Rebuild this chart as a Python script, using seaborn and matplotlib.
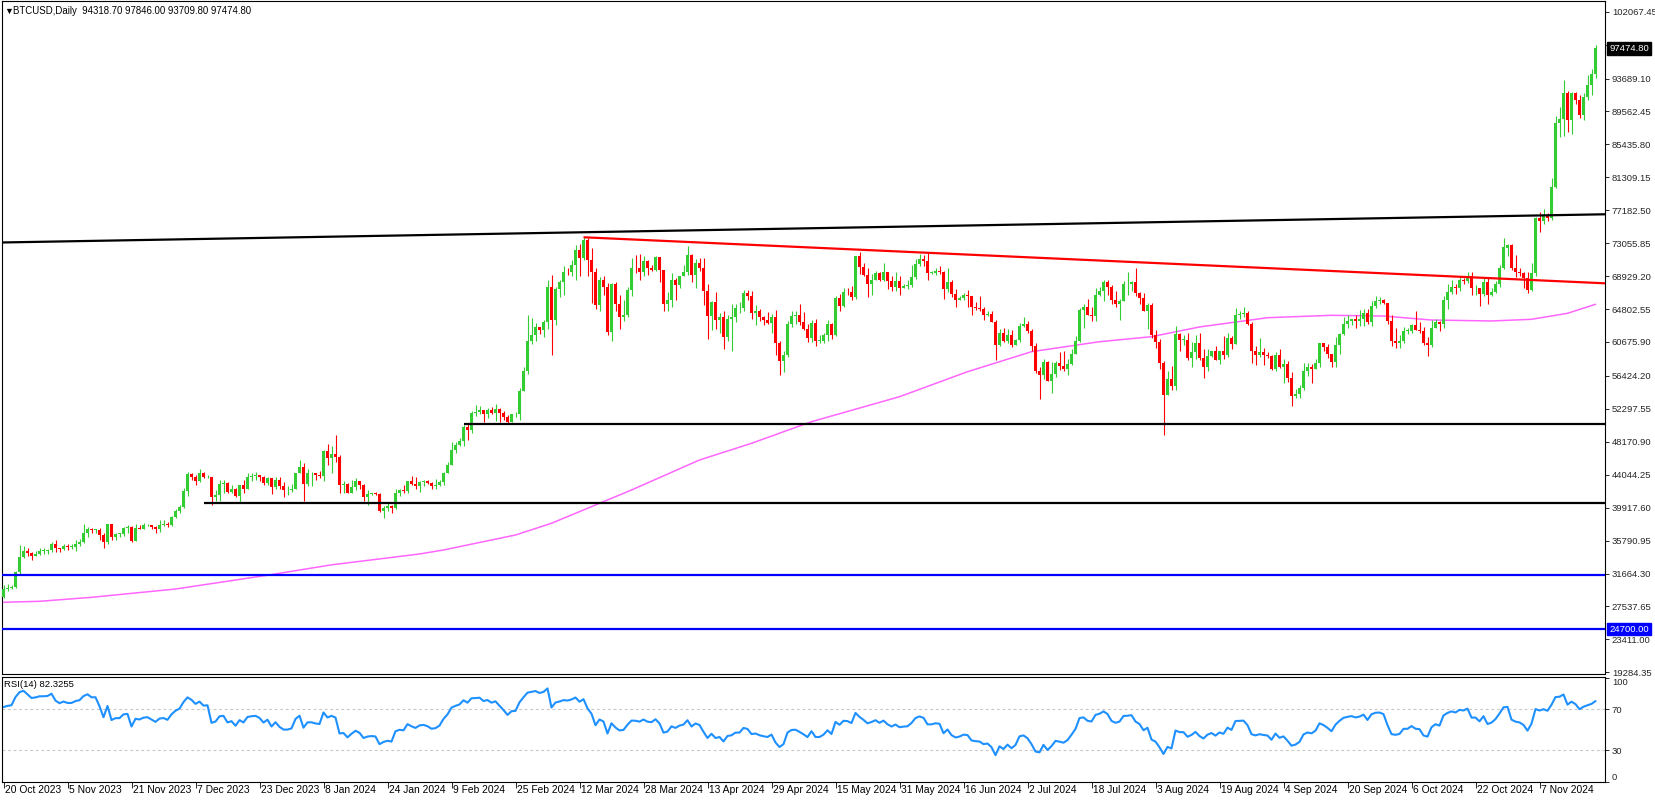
import numpy as np
import pandas as pd
import matplotlib
matplotlib.use("Agg")
import matplotlib.pyplot as plt
import seaborn as sns

sns.set_style("white")
plt.rcParams['font.family'] = ['Liberation Sans', 'DejaVu Sans']

# ---------------- data (prices in thousands of USD) ----------------
# daily bars from 20 Oct 2023 to 21 Nov 2024
opens_k = [
    # Oct 2023 (20-31)
    28.7, 29.7, 29.9, 30.0, 31.8, 33.7, 34.5, 34.2, 33.9, 34.1, 34.5, 34.5,
    # Nov 2023
    34.6, 35.4, 34.9, 34.7, 35.1, 35.0, 35.0, 35.4, 35.6, 36.7, 37.3, 37.1, 37.1, 36.5, 35.6,
    37.9, 36.2, 36.6, 36.6, 37.4, 37.5, 35.8, 37.4, 37.3, 37.7, 37.8, 37.5, 37.2, 37.8, 37.9,
    # Dec 2023
    37.7, 38.7, 39.5, 40.0, 42.0, 44.1, 43.8, 43.3, 44.2, 43.7, 43.8, 41.2, 41.5, 42.9, 43.0, 41.9,
    42.2, 41.4, 42.7, 42.3, 43.7, 43.9, 44.0, 43.7, 43.0, 43.6, 42.5, 43.4, 42.6, 42.1, 42.1,
    # Jan 2024
    42.3, 44.2, 45.0, 42.9, 44.2, 44.2, 44.0, 43.9, 47.0, 46.1, 46.6, 46.3, 42.8, 42.9, 41.7, 42.5,
    43.2, 42.7, 41.3, 41.6, 41.7, 41.6, 39.5, 39.9, 40.1, 39.9, 41.8, 42.1, 42.0, 43.3, 42.9,
    # Feb 2024
    42.6, 43.1, 43.2, 43.0, 42.6, 42.7, 43.1, 44.3, 45.3, 47.2, 47.8, 48.3, 50.0, 49.7, 51.8,
    51.9, 52.1, 51.7, 52.1, 51.8, 52.3, 51.8, 51.3, 50.7, 51.6, 51.7, 54.5, 57.1, 60.8,
    # Mar 2024
    61.6, 62.5, 62.2, 63.2, 67.6, 63.4, 67.3, 68.2, 69.5, 69.4, 70.3, 72.2, 71.2, 73.4, 71.0, 69.4,
    65.3, 68.4, 67.6, 61.9, 67.9, 65.5, 63.8, 64.1, 67.2, 70.0, 69.9, 69.5, 70.8, 69.9, 69.7,
    # Apr 2024
    71.3, 69.7, 65.5, 66.0, 68.5, 67.8, 68.9, 69.4, 71.6, 69.1, 70.6, 70.0, 67.1, 63.9, 65.7,
    63.4, 63.8, 61.3, 63.5, 63.8, 64.9, 64.9, 66.8, 66.4, 64.3, 64.5, 63.8, 63.4, 63.1, 63.8,
    # May 2024
    60.6, 58.3, 59.1, 62.9, 63.9, 64.0, 63.2, 62.3, 61.2, 63.1, 60.8, 60.8, 61.5, 62.9, 61.6, 66.2,
    65.2, 67.0, 66.9, 66.3, 71.4, 70.1, 69.1, 67.9, 68.5, 69.3, 68.5, 69.4, 68.3, 67.6, 68.3,
    # Jun 2024
    67.5, 67.7, 67.8, 68.8, 70.5, 71.1, 70.8, 69.3, 69.3, 69.6, 69.5, 67.3, 68.2, 66.7, 66.0,
    66.2, 66.6, 66.5, 65.1, 64.9, 64.8, 64.1, 64.2, 63.2, 60.3, 61.8, 60.8, 61.6, 60.3, 60.9,
    # Jul 2024
    62.7, 62.9, 62.1, 60.2, 57.0, 56.6, 58.2, 55.8, 56.7, 58.0, 57.7, 57.3, 57.9, 59.2, 60.8, 64.7,
    65.0, 64.1, 63.9, 66.6, 67.1, 68.2, 67.6, 65.9, 65.4, 65.8, 67.9, 68.0, 68.2, 66.8, 66.2,
    # Aug 2024
    64.6, 65.3, 61.5, 60.7, 58.1, 54.0, 56.0, 55.1, 61.7, 60.9, 60.9, 58.7, 59.4, 60.6, 58.7, 57.5,
    58.9, 59.5, 58.4, 59.5, 59.0, 61.2, 60.4, 64.1, 64.2, 64.3, 62.9, 59.5, 59.0, 59.4, 59.1,
    # Sep 2024
    58.9, 57.3, 59.1, 57.5, 57.9, 56.2, 53.9, 54.2, 54.9, 57.0, 57.6, 57.3, 58.1, 60.5, 60.0,
    59.2, 58.2, 60.3, 61.7, 62.9, 63.3, 63.6, 63.3, 63.6, 64.3, 63.2, 65.2, 65.8, 65.9, 65.6,
    # Oct 2024
    63.3, 60.8, 60.6, 60.8, 62.1, 62.1, 62.8, 62.2, 62.1, 60.6, 60.3, 62.4, 63.2, 62.9, 66.0, 67.0,
    67.6, 67.4, 68.4, 68.3, 69.0, 67.4, 67.4, 66.7, 68.2, 66.6, 67.0, 68.0, 69.9, 72.4, 72.8,
    # Nov 2024 (1-21)
    70.0, 69.5, 69.3, 68.7, 67.2, 69.3, 76.2, 75.8, 76.6, 76.2, 80.1, 88.1, 88.6, 91.9, 88.5,
    91.9, 91.0, 89.1, 91.4, 92.9, 94.3187,
]
highs_k = [
    30.2, 30.3, 30.2, 32.0, 35.2, 35.1, 34.8, 34.4, 34.5, 34.8, 34.8, 34.7,
    35.6, 35.9, 34.9, 35.3, 35.4, 35.3, 35.9, 36.0, 37.9, 37.5, 37.4, 37.2, 37.4, 36.8, 37.9,
    37.9, 36.8, 36.8, 37.5, 37.8, 37.6, 37.9, 37.7, 38.0, 37.9, 37.8, 37.6, 38.4, 38.4, 38.1,
    38.9, 39.7, 40.2, 42.4, 44.4, 44.3, 44.0, 44.7, 44.4, 44.0, 43.8, 42.1, 43.4, 43.4, 43.1, 42.7,
    42.4, 42.7, 43.4, 44.3, 44.2, 44.4, 44.0, 43.9, 43.8, 43.6, 43.7, 43.8, 43.1, 42.6, 42.9,
    44.2, 45.9, 45.5, 44.7, 44.4, 44.2, 44.5, 47.2, 47.9, 47.7, 49.0, 46.5, 43.3, 43.0, 43.4, 43.6,
    43.2, 42.9, 42.1, 41.8, 41.9, 41.7, 40.1, 40.5, 40.3, 42.2, 42.2, 42.8, 43.3, 43.9, 43.7,
    43.3, 43.4, 43.4, 43.1, 43.5, 43.4, 44.4, 45.6, 48.2, 48.2, 48.6, 50.3, 50.4, 52.0, 52.8,
    52.6, 52.2, 52.4, 52.5, 52.9, 52.4, 52.0, 51.5, 51.7, 51.9, 54.9, 57.5, 64.0, 63.7,
    63.1, 62.6, 63.4, 68.5, 69.1, 67.6, 68.4, 70.2, 69.9, 70.9, 72.8, 72.9, 73.8, 73.7, 72.4, 70.0,
    68.8, 68.9, 68.1, 68.1, 68.2, 66.6, 65.9, 67.6, 71.2, 71.6, 71.7, 71.5, 70.9, 70.3, 71.4,
    71.3, 69.7, 66.9, 69.3, 68.7, 69.0, 70.3, 72.7, 71.7, 71.1, 71.2, 71.2, 67.9, 65.8, 66.9,
    64.3, 64.5, 64.1, 65.5, 65.4, 65.7, 67.2, 67.2, 67.1, 65.3, 64.8, 63.9, 64.4, 64.2, 64.7,
    60.8, 59.6, 63.3, 64.5, 64.6, 65.5, 64.4, 62.9, 63.4, 63.5, 61.5, 61.8, 63.4, 63.1, 66.4, 66.7,
    67.4, 67.4, 67.7, 71.5, 71.9, 70.6, 70.0, 69.2, 69.6, 69.5, 70.6, 69.5, 68.9, 69.5, 69.0,
    67.9, 68.4, 70.3, 71.1, 71.7, 71.6, 71.9, 69.6, 69.9, 70.2, 69.6, 69.9, 68.4, 67.3, 66.4,
    66.8, 67.2, 66.5, 65.7, 66.4, 65.1, 64.5, 64.5, 63.4, 62.3, 62.4, 62.3, 62.2, 61.1, 63.0,
    63.8, 63.3, 62.3, 60.5, 57.5, 58.5, 58.3, 58.2, 58.3, 59.4, 59.5, 58.6, 59.8, 61.4, 64.9, 65.4,
    66.1, 65.1, 67.4, 67.6, 68.4, 68.5, 67.8, 67.1, 66.1, 68.3, 69.4, 68.3, 70.0, 66.9, 66.8,
    65.6, 65.6, 62.2, 61.1, 58.3, 57.0, 57.7, 62.7, 61.8, 61.5, 61.8, 60.7, 61.6, 61.8, 59.8, 59.8,
    59.6, 60.2, 59.6, 61.4, 61.8, 61.4, 64.9, 64.5, 65.0, 64.5, 63.2, 60.2, 61.2, 59.9, 59.4,
    59.1, 59.4, 59.8, 58.5, 58.3, 56.9, 54.8, 55.3, 58.1, 58.0, 57.9, 58.6, 60.6, 60.6, 60.4,
    59.2, 61.3, 61.8, 63.8, 64.1, 63.6, 64.0, 64.7, 64.8, 64.8, 65.8, 66.5, 66.3, 66.1, 65.6,
    64.1, 62.4, 61.5, 62.5, 62.4, 62.9, 64.5, 63.2, 62.5, 61.3, 63.4, 63.5, 63.3, 66.5, 67.9, 68.4,
    67.9, 68.9, 68.7, 69.4, 69.5, 67.8, 67.5, 68.8, 68.8, 67.4, 68.3, 70.3, 73.7, 72.9, 72.9,
    71.6, 70.0, 69.4, 69.4, 70.6, 76.4, 77.0, 77.3, 76.9, 81.2, 89.0, 90.1, 93.5, 92.1, 92.0,
    92.0, 91.6, 91.9, 94.1, 94.9, 97.846,
]
lows_k = [
    28.6, 29.5, 29.7, 29.8, 31.5, 33.6, 33.8, 33.4, 33.9, 34.0, 34.1, 34.1,
    34.3, 34.4, 34.3, 34.6, 34.6, 34.7, 34.5, 35.1, 35.5, 36.3, 36.7, 36.7, 35.9, 34.9, 35.4,
    35.9, 35.9, 36.2, 36.4, 36.8, 35.6, 35.7, 37.2, 37.2, 37.6, 37.2, 36.8, 36.9, 37.6, 37.5,
    37.6, 38.6, 39.3, 39.9, 41.4, 43.4, 42.8, 43.1, 43.6, 43.6, 40.2, 40.7, 40.7, 41.8, 41.7, 41.7,
    41.3, 40.5, 41.8, 42.2, 43.3, 43.4, 43.3, 42.8, 42.8, 41.6, 42.3, 42.3, 41.3, 41.5, 41.9,
    42.2, 44.2, 40.8, 42.6, 42.6, 43.4, 43.6, 43.2, 45.2, 44.3, 45.6, 41.8, 41.8, 41.7, 41.7, 42.1,
    42.2, 40.7, 40.3, 41.5, 41.5, 39.4, 38.6, 39.5, 39.3, 39.8, 41.4, 41.7, 41.8, 42.7, 42.3,
    41.9, 42.6, 42.9, 42.3, 42.3, 42.6, 42.8, 44.3, 45.2, 46.8, 47.7, 47.7, 48.4, 49.3, 51.4,
    51.6, 50.6, 51.2, 51.6, 50.8, 50.6, 50.9, 50.5, 50.6, 51.3, 50.9, 54.5, 56.7, 60.4,
    60.8, 61.7, 61.3, 62.3, 59.0, 62.8, 66.3, 66.6, 69.1, 68.9, 68.4, 69.0, 71.0, 68.9, 65.6, 64.8,
    64.6, 66.6, 61.5, 60.8, 64.6, 62.3, 63.3, 63.8, 66.4, 69.3, 68.4, 68.9, 69.1, 69.6, 69.6,
    68.2, 64.5, 64.5, 65.1, 66.0, 67.5, 68.9, 69.1, 68.2, 67.5, 69.6, 65.3, 61.0, 62.2, 62.3,
    61.8, 59.8, 60.8, 59.6, 63.2, 64.3, 64.5, 65.9, 63.6, 62.8, 63.3, 62.8, 62.9, 61.8, 59.1,
    56.6, 56.9, 58.8, 62.6, 62.9, 62.8, 62.2, 60.7, 60.7, 60.2, 60.5, 60.6, 60.8, 61.1, 61.4, 64.6,
    65.1, 66.6, 65.9, 66.1, 69.2, 68.9, 66.3, 66.6, 68.5, 68.3, 68.3, 67.3, 67.1, 67.1, 66.6,
    67.4, 67.3, 67.6, 68.6, 70.2, 70.2, 68.5, 69.2, 69.1, 69.2, 66.1, 66.9, 66.3, 65.1, 65.9,
    66.0, 65.0, 64.1, 64.7, 64.5, 63.4, 63.9, 63.2, 58.4, 60.2, 60.7, 60.6, 60.0, 60.3, 60.7,
    62.5, 61.8, 59.5, 56.8, 53.5, 56.0, 55.8, 54.3, 56.3, 57.2, 57.1, 56.6, 57.8, 59.2, 60.7, 62.4,
    64.0, 63.3, 63.3, 66.5, 65.8, 66.6, 65.5, 65.1, 63.4, 65.8, 66.6, 67.1, 66.5, 65.4, 64.6,
    62.3, 61.2, 59.9, 57.3, 49.0, 54.0, 54.6, 54.7, 59.6, 60.3, 58.4, 57.6, 58.5, 58.4, 56.2, 57.1,
    58.8, 58.4, 57.9, 58.6, 58.8, 59.8, 60.4, 63.6, 63.8, 62.8, 58.1, 57.8, 58.8, 57.8, 58.7,
    57.2, 57.1, 57.4, 55.6, 55.7, 52.6, 53.7, 53.6, 54.6, 56.4, 55.5, 57.3, 57.6, 59.5, 58.7,
    57.5, 57.6, 59.2, 61.6, 62.4, 62.8, 62.4, 62.7, 62.7, 62.9, 62.7, 64.9, 65.5, 65.4, 62.9,
    60.2, 59.9, 59.9, 60.5, 61.7, 61.8, 62.2, 61.8, 60.3, 58.9, 60.0, 62.4, 62.0, 62.4, 64.8, 66.7,
    66.7, 67.1, 68.0, 68.1, 66.6, 66.6, 65.2, 66.5, 65.5, 66.5, 66.8, 67.6, 69.8, 71.5, 69.7,
    68.8, 69.0, 67.5, 66.8, 67.1, 69.0, 74.5, 75.5, 75.9, 76.0, 80.0, 86.4, 86.5, 87.0, 86.8,
    90.5, 88.8, 88.5, 91.0, 91.6, 93.7098,
]
closes_k = [
    29.7, 29.9, 30.0, 31.8, 33.7, 34.5, 34.2, 33.9, 34.1, 34.5, 34.5, 34.6,
    35.4, 34.9, 34.7, 35.1, 35.0, 35.0, 35.4, 35.6, 36.7, 37.3, 37.1, 37.1, 36.5, 35.6, 37.9,
    36.2, 36.6, 36.6, 37.4, 37.5, 35.8, 37.4, 37.3, 37.7, 37.8, 37.5, 37.2, 37.8, 37.9, 37.7,
    38.7, 39.5, 40.0, 42.0, 44.1, 43.8, 43.3, 44.2, 43.7, 43.8, 41.2, 41.5, 42.9, 43.0, 41.9, 42.2,
    41.4, 42.7, 42.3, 43.7, 43.9, 44.0, 43.7, 43.0, 43.6, 42.5, 43.4, 42.6, 42.1, 42.1, 42.3,
    44.2, 45.0, 42.9, 44.2, 44.2, 44.0, 43.9, 47.0, 46.1, 46.6, 46.3, 42.8, 42.9, 41.7, 42.5, 43.2,
    42.7, 41.3, 41.6, 41.7, 41.6, 39.5, 39.9, 40.1, 39.9, 41.8, 42.1, 42.0, 43.3, 42.9, 42.6,
    43.1, 43.2, 43.0, 42.6, 42.7, 43.1, 44.3, 45.3, 47.2, 47.8, 48.3, 50.0, 49.7, 51.8, 51.9,
    52.1, 51.7, 52.1, 51.8, 52.3, 51.8, 51.3, 50.7, 51.6, 51.7, 54.5, 57.1, 60.8, 61.6,
    62.5, 62.2, 63.2, 67.6, 63.4, 67.3, 68.2, 69.5, 69.4, 70.3, 72.2, 71.2, 73.4, 71.0, 69.4, 65.3,
    68.4, 67.6, 61.9, 67.9, 65.5, 63.8, 64.1, 67.2, 70.0, 69.9, 69.5, 70.8, 69.9, 69.7, 71.3,
    69.7, 65.5, 66.0, 68.5, 67.8, 68.9, 69.4, 71.6, 69.1, 70.6, 70.0, 67.1, 63.9, 65.7, 63.4,
    63.8, 61.3, 63.5, 63.8, 64.9, 64.9, 66.8, 66.4, 64.3, 64.5, 63.8, 63.4, 63.1, 63.8, 60.6,
    58.3, 59.1, 62.9, 63.9, 64.0, 63.2, 62.3, 61.2, 63.1, 60.8, 60.8, 61.5, 62.9, 61.6, 66.2, 65.2,
    67.0, 66.9, 66.3, 71.4, 70.1, 69.1, 67.9, 68.5, 69.3, 68.5, 69.4, 68.3, 67.6, 68.3, 67.5,
    67.7, 67.8, 68.8, 70.5, 71.1, 70.8, 69.3, 69.3, 69.6, 69.5, 67.3, 68.2, 66.7, 66.0, 66.2,
    66.6, 66.5, 65.1, 64.9, 64.8, 64.1, 64.2, 63.2, 60.3, 61.8, 60.8, 61.6, 60.3, 60.9, 62.7,
    62.9, 62.1, 60.2, 57.0, 56.6, 58.2, 55.8, 56.7, 58.0, 57.7, 57.3, 57.9, 59.2, 60.8, 64.7, 65.0,
    64.1, 63.9, 66.6, 67.1, 68.2, 67.6, 65.9, 65.4, 65.8, 67.9, 68.0, 68.2, 66.8, 66.2, 64.6,
    65.3, 61.5, 60.7, 58.1, 54.0, 56.0, 55.1, 61.7, 60.9, 60.9, 58.7, 59.4, 60.6, 58.7, 57.5, 58.9,
    59.5, 58.4, 59.5, 59.0, 61.2, 60.4, 64.1, 64.2, 64.3, 62.9, 59.5, 59.0, 59.4, 59.1, 58.9,
    57.3, 59.1, 57.5, 57.9, 56.2, 53.9, 54.2, 54.9, 57.0, 57.6, 57.3, 58.1, 60.5, 60.0, 59.2,
    58.2, 60.3, 61.7, 62.9, 63.3, 63.6, 63.3, 63.6, 64.3, 63.2, 65.2, 65.8, 65.9, 65.6, 63.3,
    60.8, 60.6, 60.8, 62.1, 62.1, 62.8, 62.2, 62.1, 60.6, 60.3, 62.4, 63.2, 62.9, 66.0, 67.0, 67.6,
    67.4, 68.4, 68.3, 69.0, 67.4, 67.4, 66.7, 68.2, 66.6, 67.0, 68.0, 69.9, 72.6, 72.8, 70.0,
    69.5, 69.3, 68.7, 67.2, 69.3, 76.2, 75.8, 76.6, 76.2, 80.1, 88.1, 88.6, 91.9, 88.5, 91.9,
    91.0, 89.1, 91.4, 92.9, 94.3, 97.4748,
]
# closes before the visible window (for the RSI warm-up), 20 Sep - 19 Oct 2023
prior_closes_k = [27.13, 26.57, 26.58, 26.58, 26.25, 26.30, 26.22, 26.37, 27.02, 26.91,
                  26.97, 27.99, 27.53, 27.43, 27.80, 27.42, 27.95, 27.97, 27.94, 27.59,
                  27.39, 26.87, 26.76, 26.86, 26.86, 27.16, 28.52, 28.42, 28.33, 28.72]

# moving average (pink): bar index -> value
ma_bar = [0, 9, 22, 43, 66, 82, 104, 110, 128, 137, 149, 157, 174, 187, 202, 224, 241,
          257, 274, 287, 299, 316, 332, 345, 357, 372, 382, 391, 398]
ma_val = [28060, 28180, 28680, 29720, 31450, 32750, 34110, 34610, 36490, 37960, 40460,
          42130, 45890, 47980, 50690, 53820, 56950, 59460, 60710, 61340, 62560, 63720,
          64020, 63930, 63430, 63310, 63520, 64270, 65400]

# drawn lines
hlevels = [50420, 40450]          # black horizontal support lines
hlevel_start = [115, 50]          # starting bar of each
blue_levels = [31500, 24700]
top_trend = ([-0.9, 400.4], [73143, 76681])   # black rising trend line
red_trend = ([145, 400.4], [73800, 68030])    # red falling trend line

price_tick_labels = ['102067.45', '97940.80', '93689.10', '89562.45', '85435.80', '81309.15',
                     '77182.50', '73055.85', '68929.20', '64802.55', '60675.90', '56424.20',
                     '52297.55', '48170.90', '44044.25', '39917.60', '35790.95', '31664.30',
                     '27537.65', '23411.00', '19284.35']
date_labels = ['20 Oct 2023', '5 Nov 2023', '21 Nov 2023', '7 Dec 2023', '23 Dec 2023',
               '8 Jan 2024', '24 Jan 2024', '9 Feb 2024', '25 Feb 2024', '12 Mar 2024',
               '28 Mar 2024', '13 Apr 2024', '29 Apr 2024', '15 May 2024', '31 May 2024',
               '16 Jun 2024', '2 Jul 2024', '18 Jul 2024', '3 Aug 2024', '19 Aug 2024',
               '4 Sep 2024', '20 Sep 2024', '6 Oct 2024', '22 Oct 2024', '7 Nov 2024']
date_step = 16

header = 'BTCUSD,Daily  94318.70 97846.00 93709.80 97474.80'
rsi_header = 'RSI(14) 82.3255'
last_price = 97474.80

# ---------------- preparation ----------------
n = min(len(opens_k), len(highs_k), len(lows_k), len(closes_k))
o = np.array(opens_k[:n]) * 1000
h = np.array(highs_k[:n]) * 1000
l = np.array(lows_k[:n]) * 1000
c = np.array(closes_k[:n]) * 1000
idx = np.arange(n)
df = pd.DataFrame({'bar': idx, 'open': o, 'high': h, 'low': l, 'close': c})

# RSI(14), Wilder smoothing
allc = np.concatenate([np.array(prior_closes_k) * 1000, c])
d = np.diff(allc)
g = np.clip(d, 0, None)
ls_ = np.clip(-d, 0, None)
P = 14
ag, al = g[:P].mean(), ls_[:P].mean()
rsi_full = [np.nan] * (P + 1)
for k in range(P, len(d)):
    ag = (ag * (P - 1) + g[k]) / P
    al = (al * (P - 1) + ls_[k]) / P
    rsi_full.append(100 - 100 / (1 + ag / al) if al > 0 else 100)
rsi = np.array(rsi_full)[-n:]
rsi_df = pd.DataFrame({'bar': idx, 'rsi': rsi})
ma_df = pd.DataFrame({'bar': ma_bar, 'ma': ma_val})

# ---------------- figure ----------------
W, H = 1655, 802
fig = plt.figure(figsize=(W / 100, H / 100), dpi=100)


def rect(x0, y0, x1, y1):
    return [x0 / W, 1 - y1 / H, (x1 - x0) / W, (y1 - y0) / H]


ax = fig.add_axes(rect(2, 1, 1605, 674))
axr = fig.add_axes(rect(2, 677, 1605, 781.5))

XL = (-0.375, 400.375)
GREEN, RED = '#33cc33', '#ff0000'

# candles
col = np.where(df['close'] >= df['open'], GREEN, RED)
ax.vlines(df['bar'], df['low'], df['high'], colors=col, lw=0.8, zorder=3)
body = np.maximum(np.abs(df['close'] - df['open']), 90)
ax.bar(df['bar'], body, bottom=np.minimum(df['open'], df['close']), width=0.72,
       color=col, linewidth=0, zorder=4)

# MA
sns.lineplot(data=ma_df, x='bar', y='ma', ax=ax, color='#ff66ff', lw=1.1, zorder=2)

# drawn lines
ax.plot(top_trend[0], top_trend[1], color='black', lw=1.6, zorder=5, solid_capstyle='butt')
ax.plot(red_trend[0], red_trend[1], color=RED, lw=1.6, zorder=5, solid_capstyle='butt')
for lv, st in zip(hlevels, hlevel_start):
    ax.hlines(lv, st, XL[1], color='black', lw=1.6, zorder=5)
for lv in blue_levels:
    ax.hlines(lv, XL[0], XL[1], color='#0000ff', lw=1.6, zorder=5)

ax.set_xlim(*XL)
ax.set_ylim(19071, 103408)
ax.yaxis.tick_right()
ax.set_yticks([float(s) for s in price_tick_labels])
ax.set_yticklabels(price_tick_labels)
ax.tick_params(axis='y', which='both', direction='out', length=3, width=0.7, pad=2,
               labelsize=6.8, right=True, left=False)
ax.set_xticks([])
ax.set_xlabel('')
ax.set_ylabel('')

yt = ax.get_yaxis_transform()
ax.text(1.0025, last_price, f'{last_price:.2f}', transform=yt, ha='left', va='center',
        fontsize=6.8, color='white', zorder=10, clip_on=False,
        bbox=dict(boxstyle='square,pad=0.2', fc='black', ec='black'))
ax.text(1.0025, blue_levels[1], f'{blue_levels[1]:.2f}', transform=yt, ha='left', va='center',
        fontsize=6.8, color='white', zorder=10, clip_on=False,
        bbox=dict(boxstyle='square,pad=0.2', fc='#0000ff', ec='#0000ff'))

# RSI
sns.lineplot(data=rsi_df, x='bar', y='rsi', ax=axr, color='#1e90ff', lw=1.5)
for lv in (70, 30):
    axr.axhline(lv, color='#c8c8c8', lw=0.8, ls=(0, (2.5, 2.5)), zorder=1)
axr.set_xlim(*XL)
axr.set_ylim(0.7, 101)
axr.yaxis.tick_right()
axr.set_yticks([0, 30, 70, 100])
axr.set_yticklabels(['0', '30', '70', '100'])
axr.tick_params(axis='y', direction='out', length=3, width=0.7, pad=2, labelsize=6.8,
                right=True, left=False)
for lab in axr.get_yticklabels():
    if lab.get_text() == '100':
        lab.set_va('top')
    elif lab.get_text() == '0':
        lab.set_va('bottom')
tick_pos = np.arange(len(date_labels)) * date_step
axr.set_xticks(tick_pos)
axr.set_xticklabels([''] * len(tick_pos))
axr.tick_params(axis='x', direction='out', length=4, width=0.7, bottom=True)
for p, s in zip(tick_pos, date_labels):
    axr.annotate(s, xy=(p, 0), xycoords=('data', 'axes fraction'), xytext=(1.2, -2.5),
                 textcoords='offset points', ha='left', va='top', fontsize=7.4, color='black',
                 annotation_clip=False)
axr.set_xlabel('')
axr.set_ylabel('')
axr.text(0.0015, 0.93, rsi_header, transform=axr.transAxes, ha='left', va='center',
         fontsize=6.8, color='black')

for a in (ax, axr):
    for sp in a.spines.values():
        sp.set_color('black')
        sp.set_linewidth(0.8)
        sp.set_visible(True)

fig.text(4 / W, 1 - 11 / H, '\u25BC', fontsize=6.5, ha='left', va='center', color='black')
fig.text(13 / W, 1 - 11 / H, header, fontsize=6.9, ha='left', va='center', color='black')

fig.savefig('out.png', dpi=100)
